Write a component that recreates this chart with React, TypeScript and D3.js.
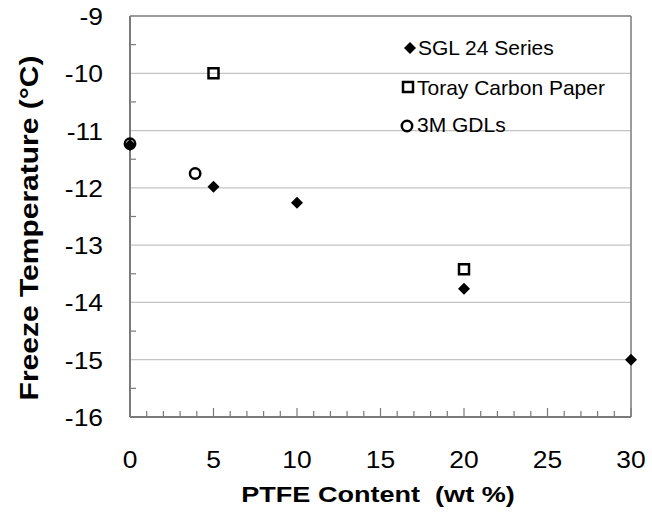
import React from "react";
import * as d3 from "d3";

const sglX = [0, 5, 10, 20, 30];
const sglY = [-11.25, -11.98, -12.26, -13.76, -15.0];
const torayX = [5, 20];
const torayY = [-10.0, -13.42];
const mmmX = [0, 3.9];
const mmmY = [-11.23, -11.75];
const xTicks = [0, 5, 10, 15, 20, 25, 30];
const yTicks = [-9, -10, -11, -12, -13, -14, -15, -16];
const seriesNames = ["SGL 24 Series", "Toray Carbon Paper", "3M GDLs"];
const xTitle = "PTFE Content  (wt %)";
const yTitle = "Freeze Temperature (°C)";

const W = 652, H = 520;
const L = 130, R = 631, T = 16, B = 417;
const FONT = "'Liberation Sans', Arial, sans-serif";
const AX = "#7a7a7a";

export default function App() {
  const x = d3.scaleLinear().domain([0, 30]).range([L, R]);
  const y = d3.scaleLinear().domain([-16, -9]).range([B, T]);

  const diamond = d3.symbol().type(d3.symbolSquare).size(72)()!;
  const square = d3.symbol().type(d3.symbolSquare).size(100)()!;
  const circle = d3.symbol().type(d3.symbolCircle).size(85)()!;

  const minorX = d3.range(0, 31, 1);
  const minorY = d3.range(-15.5, -9, 1);
  const grid = [-10, -11, -12, -13, -14, -15];

  const Diamond = ({ cx, cy }: { cx: number; cy: number }) => (
    <path d={diamond} transform={`translate(${cx},${cy}) rotate(45)`} fill="#000" />
  );
  const Square = ({ cx, cy }: { cx: number; cy: number }) => (
    <path d={square} transform={`translate(${cx},${cy})`} fill="none" stroke="#000" strokeWidth={2.5} />
  );
  const Circle = ({ cx, cy }: { cx: number; cy: number }) => (
    <path d={circle} transform={`translate(${cx},${cy})`} fill="none" stroke="#000" strokeWidth={2.5} />
  );

  return (
    <svg width={W} height={H} style={{ position: "absolute", left: 0, top: 0, background: "#fff" }} fontFamily={FONT}>
      <rect width={W} height={H} fill="#fff" />
      {grid.map((g) => (
        <line key={g} x1={L} x2={R} y1={y(g)} y2={y(g)} stroke="#c4c4c4" strokeWidth={1.3} />
      ))}
      {/* frame */}
      <line x1={L} x2={R} y1={T} y2={T} stroke={AX} strokeWidth={1.5} />
      <line x1={R} x2={R} y1={T} y2={B} stroke={AX} strokeWidth={1.5} />
      {/* minor y ticks */}
      {minorY.map((v) => (
        <line key={v} x1={L} x2={L + 6} y1={y(v)} y2={y(v)} stroke={AX} strokeWidth={1.2} />
      ))}
      {/* x ticks */}
      {minorX.map((v) => (
        <line key={v} x1={x(v)} x2={x(v)} y1={B} y2={B - (v % 5 === 0 ? 9 : 6)} stroke={AX} strokeWidth={1.2} />
      ))}
      <line x1={L} x2={L} y1={T} y2={B} stroke={AX} strokeWidth={2} />
      <line x1={L} x2={R} y1={B} y2={B} stroke={AX} strokeWidth={2} />

      {/* tick labels */}
      {yTicks.map((v) => (
        <text key={v} transform={`translate(103,${y(v) + 9}) scale(1.1,1)`} textAnchor="end" fontSize={24} fill="#000">
          {v}
        </text>
      ))}
      {xTicks.map((v) => (
        <text key={v} transform={`translate(${x(v)},468) scale(1.1,1)`} textAnchor="middle" fontSize={24} fill="#000">
          {v}
        </text>
      ))}

      {/* axis titles */}
      <text transform={`translate(378,502) scale(1.23,1)`} textAnchor="middle" fontSize={22} fontWeight="bold" style={{ whiteSpace: "pre" }}>
        {xTitle}
      </text>
      <text transform={`translate(38,228) rotate(-90) scale(1.2,1)`} textAnchor="middle" fontSize={25} fontWeight="bold">
        {yTitle}
      </text>

      {/* data */}
      {sglX.map((v, i) => <Diamond key={"s" + i} cx={x(v)} cy={y(sglY[i])} />)}
      {torayX.map((v, i) => <Square key={"t" + i} cx={x(v)} cy={y(torayY[i])} />)}
      {mmmX.map((v, i) => <Circle key={"m" + i} cx={x(v)} cy={y(mmmY[i])} />)}

      {/* legend */}
      <Diamond cx={410} cy={48} />
      <text x={418} y={55} fontSize={21}>{seriesNames[0]}</text>
      <Square cx={408} cy={87} />
      <text x={417} y={95} fontSize={21}>{seriesNames[1]}</text>
      <Circle cx={407} cy={126} />
      <text x={417} y={132} fontSize={21}>{seriesNames[2]}</text>
    </svg>
  );
}
